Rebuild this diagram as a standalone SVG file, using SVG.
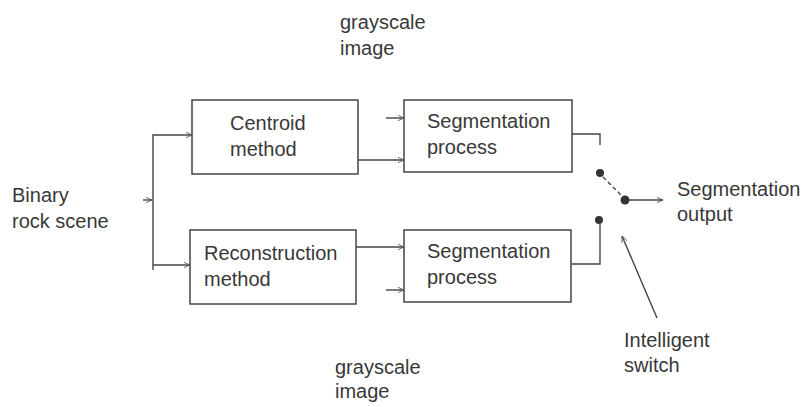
<svg xmlns="http://www.w3.org/2000/svg" width="808" height="407" viewBox="0 0 808 407">
<defs>
<style>
.box{fill:#fff;stroke:#444;stroke-width:1.5}
.ln{fill:none;stroke:#444;stroke-width:1.4}
.t{font-family:"Liberation Sans",Arial,sans-serif;font-size:20px;fill:#383838}
.dot{fill:#333}
</style>
<marker id="ah" viewBox="0 0 10 10" refX="9" refY="5" markerWidth="7" markerHeight="7" orient="auto" markerUnits="userSpaceOnUse">
<path d="M0,1 L9,5 L0,9" fill="none" stroke="#555" stroke-width="1.2"/>
</marker>
</defs>
<rect width="808" height="407" fill="#fff"/>
<g id="label-gray-top"><text class="t" x="340" y="29">grayscale</text><text class="t" x="340" y="55">image</text></g>
<g id="label-gray-bottom"><text class="t" x="335" y="374">grayscale</text><text class="t" x="335" y="398">image</text></g>
<g id="input"><text class="t" x="12" y="202">Binary</text><text class="t" x="12" y="228">rock scene</text></g>
<g id="centroid"><rect class="box" x="192" y="100" width="166" height="74"/><text class="t" x="230" y="130">Centroid</text><text class="t" x="230" y="156">method</text></g>
<g id="reconstruction"><rect class="box" x="190" y="230" width="166" height="74"/><text class="t" x="204" y="260">Reconstruction</text><text class="t" x="204" y="286">method</text></g>
<g id="seg-top"><rect class="box" x="404" y="100" width="168" height="72"/><text class="t" x="427" y="128">Segmentation</text><text class="t" x="427" y="154">process</text></g>
<g id="seg-bottom"><rect class="box" x="404" y="230" width="167" height="72"/><text class="t" x="427" y="258">Segmentation</text><text class="t" x="427" y="284">process</text></g>
<g id="output"><text class="t" x="677" y="196">Segmentation</text><text class="t" x="677" y="221">output</text></g>
<g id="switch-label"><text class="t" x="624" y="347">Intelligent</text><text class="t" x="624" y="372">switch</text></g>
<g id="switch"><circle class="dot" cx="600" cy="173" r="4"/><circle class="dot" cx="625" cy="200" r="4.5"/><circle class="dot" cx="599" cy="220" r="4"/></g>
<g id="connectors">
<path class="ln" d="M143,200 L152,200" marker-end="url(#ah)"/>
<path class="ln" d="M153,270 L153,135 L192,135" marker-end="url(#ah)"/>
<path class="ln" d="M153,265 L190,265" marker-end="url(#ah)"/>
<path class="ln" d="M358,160 L404,160" marker-end="url(#ah)"/>
<path class="ln" d="M386,118 L404,118" marker-end="url(#ah)"/>
<path class="ln" d="M356,247 L404,247" marker-end="url(#ah)"/>
<path class="ln" d="M386,290 L404,290" marker-end="url(#ah)"/>
<path class="ln" d="M572,134 L600,134 L600,145"/>
<path class="ln" d="M571,264 L600,264 L600,220"/>
<path class="ln" d="M603,177 L622,196" stroke-dasharray="4,3"/>
<path class="ln" d="M629,200 L663,200" marker-end="url(#ah)"/>
<path class="ln" d="M657,318 L622,236" marker-end="url(#ah)"/>
</g>
</svg>
